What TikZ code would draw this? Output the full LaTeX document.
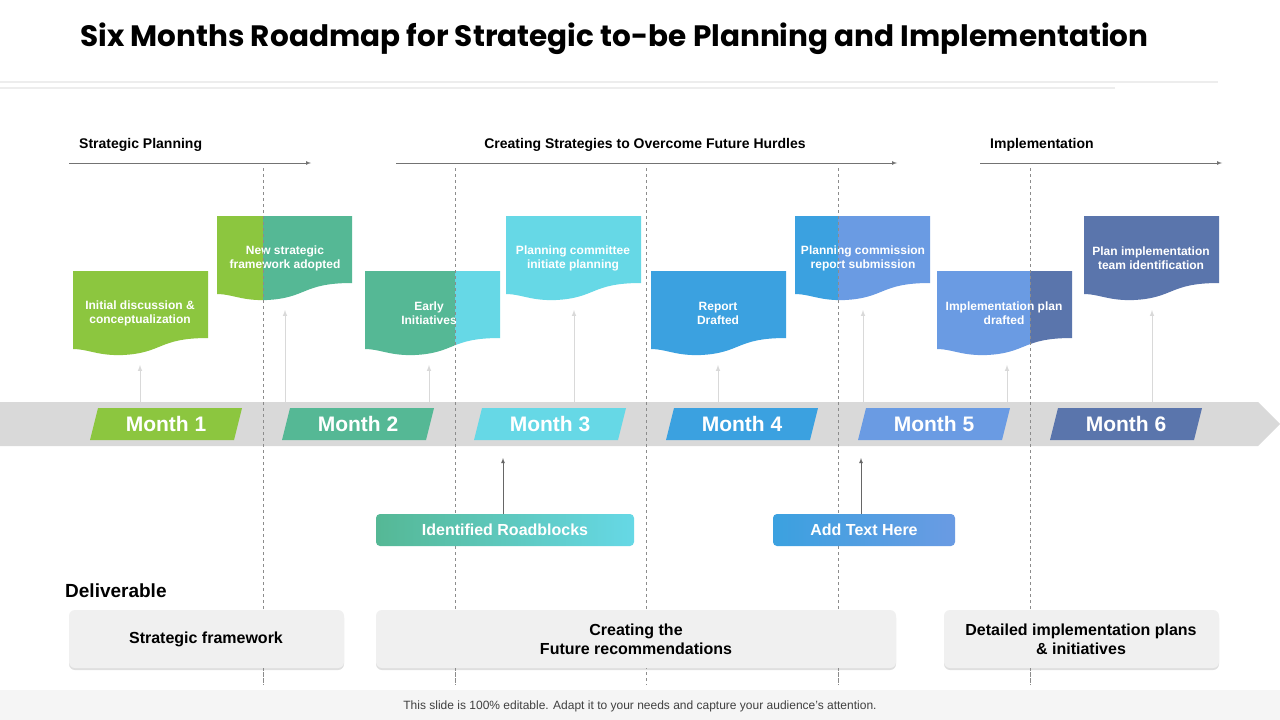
\documentclass[tikz,border=0pt]{standalone}
\usepackage{fontspec}
\setmainfont{Liberation Sans}
\newfontfamily\titlefont{Poppins}
\usetikzlibrary{shadows}
\definecolor{cA}{HTML}{8CC63F}
\definecolor{cB}{HTML}{55B895}
\definecolor{cC}{HTML}{66D8E6}
\definecolor{cD}{HTML}{3BA1E0}
\definecolor{cE}{HTML}{6A9BE3}
\definecolor{cF}{HTML}{5A75AC}
\definecolor{dash}{HTML}{8C8C8C}
\tikzset{x=1pt,y=-1pt,
 cardtxt/.style={text=white,font=\bfseries\fontsize{12}{14}\selectfont,align=center},
 monthtxt/.style={text=white,font=\bfseries\fontsize{21}{23}\selectfont},
 uparrow/.style={draw=black!15,line width=1pt,-latex},
 phasearrow/.style={draw=black!55,line width=0.7pt,-latex},
 phasetxt/.style={font=\bfseries\fontsize{14}{16}\selectfont,inner sep=0pt},
 vdash/.style={draw=dash,dashed,line width=0.8pt},
 delbox/.style={fill=black!6,rounded corners=6pt,drop shadow={shadow xshift=0pt,shadow yshift=-2pt,opacity=0.25}},
 deltxt/.style={font=\bfseries\fontsize{16}{19}\selectfont,align=center},
}
\begin{document}
\begin{tikzpicture}
\useasboundingbox (0,0) rectangle (1280,720);
\fill[white] (0,0) rectangle (1280,720);
% title
\node[anchor=west,inner sep=0pt,font=\titlefont\bfseries\fontsize{29.5}{32}\selectfont] (title) at (80,39) {Six Months Roadmap for Strategic to-be Planning and Implementation};
\draw[black!7,line width=2pt] (0,82) -- (1218,82);
\draw[black!7,line width=2pt] (0,88) -- (1115,88);
% phases
\node[anchor=west,phasetxt] (p1) at (79,145) {Strategic Planning};
\node[phasetxt] (p2) at (645,145) {Creating Strategies to Overcome Future Hurdles};
\node[anchor=west,phasetxt] (p3) at (990,145) {Implementation};
\coordinate (a1s) at (69,163); \coordinate (a1e) at (311,163);
\coordinate (a2s) at (396,163); \coordinate (a2e) at (897,163);
\coordinate (a3s) at (980,163); \coordinate (a3e) at (1222,163);
\draw[phasearrow] (a1s) -- (a1e);
\draw[phasearrow] (a2s) -- (a2e);
\draw[phasearrow] (a3s) -- (a3e);
% cards
\def\card#1#2{(#1,#2) -- ++(135,0) -- ++(0,67) .. controls ++(-50,0) and ++(40,-2) .. ++(-85,17) .. controls ++(-25,1) and ++(15,0) .. ++(-50,-6) -- cycle}
\fill[cA] \card{73}{271};
\begin{scope}\clip \card{217}{216}; \fill[cA] (217,200) rectangle (263,320); \fill[cB] (263,200) rectangle (360,320);\end{scope}
\begin{scope}\clip \card{365}{271}; \fill[cB] (365,260) rectangle (455,370); \fill[cC] (455,260) rectangle (510,370);\end{scope}
\fill[cC] \card{506}{216};
\fill[cD] \card{651}{271};
\begin{scope}\clip \card{795}{216}; \fill[cD] (795,200) rectangle (838,320); \fill[cE] (838,200) rectangle (940,320);\end{scope}
\begin{scope}\clip \card{937}{271}; \fill[cE] (937,260) rectangle (1030,370); \fill[cF] (1030,260) rectangle (1080,370);\end{scope}
\fill[cF] \card{1084}{216};
\node[cardtxt] (t1) at (140,313) {Initial discussion \&\\conceptualization};
\node[cardtxt] (t2) at (285,258) {New strategic\\framework adopted};
\node[cardtxt] (t3) at (429,313) {Early\\Initiatives};
\node[cardtxt] (t4) at (573,258) {Planning committee\\initiate planning};
\node[cardtxt] (t5) at (718,313) {Report\\Drafted};
\node[cardtxt] (t6) at (863,258) {Planning commission\\report submission};
\node[cardtxt] (t7) at (1004,313) {Implementation plan\\drafted};
\node[cardtxt] (t8) at (1151,258) {Plan implementation\\team identification};
% band
\fill[black!15] (0,402) -- (1258,402) -- (1280,424) -- (1258,446) -- (0,446) -- cycle;
% dashed
\foreach \x in {263,455,646,838,1030} \draw[vdash] (\x,168) -- (\x,685);
% up arrows
\foreach \x/\y in {140/365,285/310,429/365,574/310,718/365,863/310,1007/365,1152/310} \draw[uparrow] (\x,402) -- (\x,\y);
% months
\foreach \i/\c in {1/cA,2/cB,3/cC,4/cD,5/cE,6/cF}{
 \pgfmathsetmacro\xl{90+192*(\i-1)}
 \fill[\c] (\xl+8,408) -- (\xl+152,408) -- (\xl+144,440) -- (\xl,440) -- cycle;
 \node[monthtxt] (m\i) at (\xl+76,424) {Month \i};
}
% roadblocks
\shade[left color=cB,right color=cC,rounded corners=4pt] (376,514) rectangle (634,546);
\node[text=white,font=\bfseries\fontsize{16}{18}\selectfont] (rb) at (505,530) {Identified Roadblocks};
\shade[left color=cD,right color=cE,rounded corners=4pt] (773,514) rectangle (955,546);
\node[text=white,font=\bfseries\fontsize{16}{18}\selectfont] (ath) at (864,530) {Add Text Here};
\coordinate (rbt) at (503,514); \coordinate (rbh) at (503,458);
\coordinate (att) at (861,514); \coordinate (ath2) at (861,458);
\draw[black!60,line width=0.8pt,-latex] (rbt) -- (rbh);
\draw[black!60,line width=0.8pt,-latex] (att) -- (ath2);
% deliverable
\node[anchor=west,inner sep=0pt,font=\bfseries\fontsize{19}{21}\selectfont] (del) at (65,591) {Deliverable};
\fill[delbox] (69,610) rectangle (344,668);
\fill[delbox] (376,610) rectangle (896,668);
\fill[delbox] (944,610) rectangle (1219,668);
\foreach \x in {263,455,838,1030} \draw[vdash] (\x,668) -- (\x,685);
\node[deltxt] (d1) at (206,639) {Strategic framework};
\node[deltxt] (d2) at (636,639) {Creating the\\Future recommendations};
\node[deltxt] (d3) at (1081,639) {Detailed implementation plans\\\& initiatives};
% footer
\fill[black!4] (0,690) rectangle (1280,720);
\node[text=black!75,font=\fontsize{12}{14}\selectfont] (foot) at (640,706) {This slide is 100\% editable. Adapt it to your needs and capture your audience's attention.};
\end{tikzpicture}
\end{document}
